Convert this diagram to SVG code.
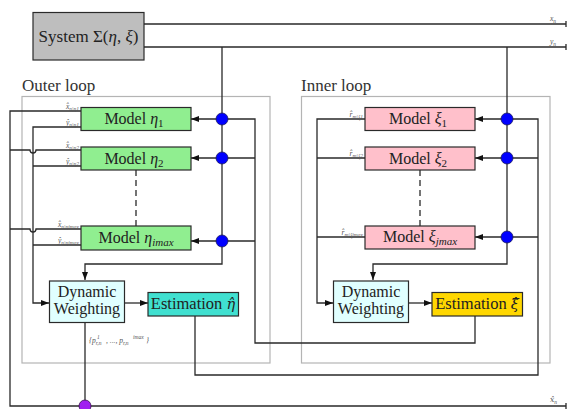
<svg xmlns="http://www.w3.org/2000/svg" width="568" height="409" viewBox="0 0 568 409">
<style>
.ln{fill:none;stroke:#2a2a2a;stroke-width:1.3}
.ar{marker-end:url(#ah)}
.loop{fill:none;stroke:#b4b4b4;stroke-width:1.2}
.box{stroke:#2a2a2a;stroke-width:1.2}
text{font-family:'Liberation Serif','DejaVu Serif',serif}
.t{fill:#222}
.big{font-size:16px}
.lbl{font-size:17px;fill:#333}
.sm{font-size:7.5px;fill:#555;font-style:italic}
.sb{font-size:5.5px}
.dj{font-family:'DejaVu Serif',serif}
.bl{fill:#0000ff;stroke:#1a1a5a;stroke-width:0.8}
</style>
<defs>
<marker id="ah" markerWidth="8" markerHeight="6" refX="8" refY="3" orient="auto" markerUnits="userSpaceOnUse">
<path d="M0,0 L8,3 L0,6 Z" fill="#111"/>
</marker>
</defs>
<rect x="0" y="0" width="568" height="409" fill="#fff"/>
<g id="outer-loop">
<rect class="loop" x="22" y="96.5" width="248" height="266.5"/>
<text class="t lbl" x="22" y="91">Outer loop</text>
</g>
<g id="inner-loop">
<rect class="loop" x="301.5" y="96.5" width="248.5" height="266.5"/>
<text class="t lbl" x="301" y="91">Inner loop</text>
</g>
<g id="connectors">
<path class="ln" d="M144,24 H566 M566,21 V27"/>
<path class="ln" d="M144,47 H566 M566,44 V50"/>
<path class="ln ar" d="M222,47 V264 H85 V280"/>
<path class="ln ar" d="M507,47 V264 H373 V280"/>
<path class="ln ar" d="M475,316 V343 H255 V119 H191"/>
<path class="ln ar" d="M255,158 H191"/>
<path class="ln ar" d="M255,241 H191"/>
<path class="ln ar" d="M195,316 V375 H538 V119 H475"/>
<path class="ln ar" d="M538,158 H475"/>
<path class="ln ar" d="M538,237 H475"/>
<path class="ln" d="M81,111 H10 V406 H566 M566,403 V409"/>
<path class="ln ar" d="M81,127 H33 V303 H49"/>
<path class="ln" d="M81,150 H36 A3,3 0 0 1 30,150 H10"/>
<path class="ln" d="M81,166 H33"/>
<path class="ln" d="M81,229 H36 A3,3 0 0 1 30,229 H10"/>
<path class="ln" d="M81,245 H33"/>
<path class="ln ar" d="M365,119 H317 V303 H333"/>
<path class="ln" d="M365,158 H317"/>
<path class="ln" d="M365,237 H317"/>
<path class="ln ar" d="M124,303 H148"/>
<path class="ln ar" d="M408,303 H432"/>
<path class="ln" d="M85,323 V406"/>
<path class="ln" d="M136,170 V226 M420,170 V226" stroke-dasharray="6,4"/>
<circle class="bl" cx="222" cy="119" r="6"/>
<circle class="bl" cx="222" cy="158" r="6"/>
<circle class="bl" cx="222" cy="241" r="6"/>
<circle class="bl" cx="507" cy="119" r="6"/>
<circle class="bl" cx="507" cy="158" r="6"/>
<circle class="bl" cx="507" cy="237" r="6"/>
<circle cx="85" cy="406" r="6" fill="#a020f0" stroke="#3a1050" stroke-width="0.8"/>
<text class="sm" x="550" y="21">x<tspan class="sb" dy="1.5">n</tspan></text>
<text class="sm" x="550" y="44">y<tspan class="sb" dy="1.5">n</tspan></text>
<text class="sm" x="550" y="402"><tspan class="dj">x̂</tspan><tspan class="sb" dy="1.5">n</tspan></text>
<text class="sm" x="79" y="109" text-anchor="end">x̂<tspan class="sb" dy="1.5">n|η1</tspan></text>
<text class="sm" x="79" y="125" text-anchor="end">ŷ<tspan class="sb" dy="1.5">n|η1</tspan></text>
<text class="sm" x="79" y="148" text-anchor="end">x̂<tspan class="sb" dy="1.5">n|η2</tspan></text>
<text class="sm" x="79" y="164" text-anchor="end">ŷ<tspan class="sb" dy="1.5">n|η2</tspan></text>
<text class="sm" x="79" y="227" text-anchor="end">x̂<tspan class="sb" dy="1.5">n|ηimax</tspan></text>
<text class="sm" x="79" y="243" text-anchor="end">ŷ<tspan class="sb" dy="1.5">n|ηimax</tspan></text>
<text class="sm" x="363" y="117" text-anchor="end">r̂<tspan class="sb" dy="1.5">m|ξ1</tspan></text>
<text class="sm" x="363" y="156" text-anchor="end">r̂<tspan class="sb" dy="1.5">m|ξ2</tspan></text>
<text class="sm" x="363" y="235" text-anchor="end">r̂<tspan class="sb" dy="1.5">m|ξjmax</tspan></text>
<text class="sm" x="89" y="343">{p<tspan class="sb" dy="2">r,n</tspan><tspan class="sb" x="97" dy="-6">1</tspan><tspan dy="4" x="106">, ..., p</tspan><tspan class="sb" dy="2">r,n</tspan><tspan class="sb" x="133" dy="-6">imax</tspan><tspan dy="4" x="146">}</tspan></text>
</g>
<g id="system">
<rect class="box" x="33" y="12.5" width="111" height="47.5" fill="#bebebe"/>
<text class="t" font-size="17" x="88.5" y="42" text-anchor="middle">System Σ(<tspan font-style="italic">η</tspan>, <tspan font-style="italic">ξ</tspan>)</text>
</g>
<g id="model-eta1">
<rect class="box" x="81" y="107.5" width="110" height="23" fill="#90ee90"/>
<text class="t big" x="134" y="124" text-anchor="middle">Model <tspan font-style="italic">η</tspan><tspan font-size="11" dy="3">1</tspan></text>
</g>
<g id="model-eta2">
<rect class="box" x="81" y="147" width="110" height="23" fill="#90ee90"/>
<text class="t big" x="134" y="163.5" text-anchor="middle">Model <tspan font-style="italic">η</tspan><tspan font-size="11" dy="3">2</tspan></text>
</g>
<g id="model-etaimax">
<rect class="box" x="81" y="226" width="110" height="24" fill="#90ee90"/>
<text class="t big" x="136" y="243" text-anchor="middle">Model <tspan font-style="italic">η</tspan><tspan font-size="11" font-style="italic" dy="3">imax</tspan></text>
</g>
<g id="model-xi1">
<rect class="box" x="365" y="107.5" width="110" height="23" fill="#ffc0cb"/>
<text class="t big" x="418" y="124" text-anchor="middle">Model <tspan font-style="italic">ξ</tspan><tspan font-size="11" dy="3">1</tspan></text>
</g>
<g id="model-xi2">
<rect class="box" x="365" y="147" width="110" height="23" fill="#ffc0cb"/>
<text class="t big" x="418" y="163.5" text-anchor="middle">Model <tspan font-style="italic">ξ</tspan><tspan font-size="11" dy="3">2</tspan></text>
</g>
<g id="model-xijmax">
<rect class="box" x="365" y="226" width="110" height="23" fill="#ffc0cb"/>
<text class="t big" x="420" y="242" text-anchor="middle">Model <tspan font-style="italic">ξ</tspan><tspan font-size="11" font-style="italic" dy="3">jmax</tspan></text>
</g>
<g id="dw-outer">
<rect class="box" x="49.5" y="281" width="75" height="41.5" fill="#e0ffff"/>
<text class="t big" x="87" y="297" text-anchor="middle" fill="#333">Dynamic</text>
<text class="t big" x="87" y="314" text-anchor="middle" fill="#333">Weighting</text>
</g>
<g id="est-eta">
<rect class="box" x="148" y="292.5" width="90.5" height="23.5" fill="#40e0d0"/>
<text class="t" font-size="16.5" x="193" y="309" text-anchor="middle">Estimation <tspan class="dj" font-size="14.5" font-style="italic">η̂</tspan></text>
</g>
<g id="dw-inner">
<rect class="box" x="333.5" y="281" width="75" height="41.5" fill="#e0ffff"/>
<text class="t big" x="371" y="297" text-anchor="middle" fill="#333">Dynamic</text>
<text class="t big" x="371" y="314" text-anchor="middle" fill="#333">Weighting</text>
</g>
<g id="est-xi">
<rect class="box" x="432" y="292.5" width="90.5" height="23.5" fill="#ffd700"/>
<text class="t" font-size="16.5" x="477" y="309" text-anchor="middle">Estimation <tspan class="dj" font-size="14.5" font-style="italic">ξ̂</tspan></text>
</g>
</svg>
